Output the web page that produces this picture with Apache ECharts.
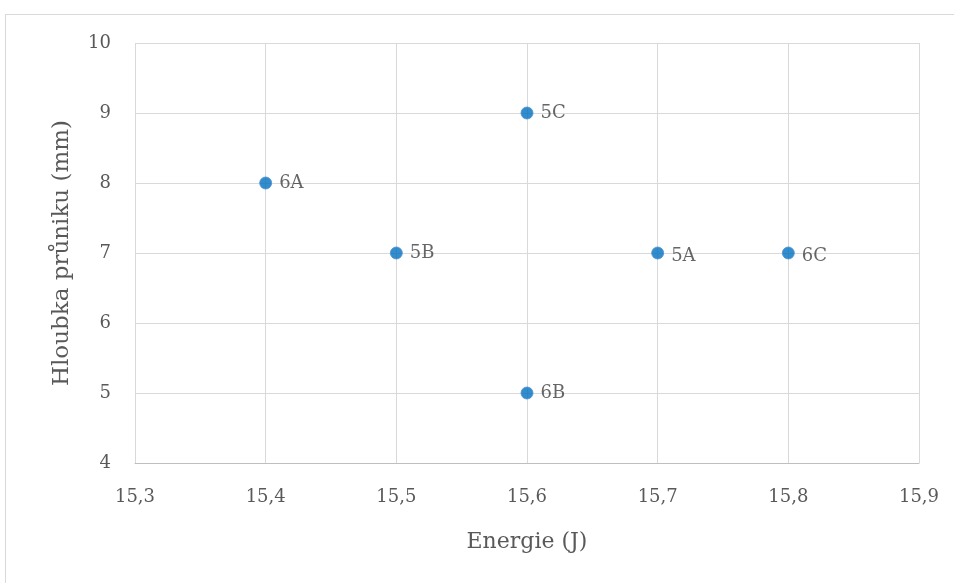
<!DOCTYPE html>
<html>
<head>
<meta charset="utf-8">
<script src="https://cdn.jsdelivr.net/npm/echarts@6/dist/echarts.min.js"></script>
<style>
  html, body { margin: 0; padding: 0; background: #fff; }
  #frame { position: absolute; left: 5px; top: 14px; width: 960px; height: 580px; border: 1px solid #d9d9d9; box-sizing: border-box; }
  #chart { position: absolute; left: 0; top: 0; width: 954px; height: 583px; }
</style>
</head>
<body>
<div id="frame"></div>
<div id="chart"></div>
<script>
// Sample labels, impact energy (J) and penetration depth (mm)
const samples = ['5A', '5B', '5C', '6A', '6B', '6C'];
const energies = [15.7, 15.5, 15.6, 15.4, 15.6, 15.8];
const depths = [7, 7, 9, 8, 5, 7];

const xTicks = { min: 15.3, max: 15.9, step: 0.1 };
const yTicks = { min: 4, max: 10, step: 1 };

const font = '"DejaVu Serif", "Liberation Serif", serif';

// labels sitting on a gridline get nudged slightly downward
const lowered = new Set(['5A', '6C']);
const points = samples.map((s, i) => ({
  value: [energies[i], depths[i]],
  name: s,
  label: { offset: [0, lowered.has(s) ? 3 : 0] }
}));

const chart = echarts.init(document.getElementById('chart'), null, { renderer: 'canvas' });
chart.setOption({
  backgroundColor: 'transparent',
  animation: false,
  grid: { left: 135, right: 35, top: 43, bottom: 120, containLabel: false },
  xAxis: {
    type: 'value',
    min: xTicks.min, max: xTicks.max, interval: xTicks.step,
    name: 'Energie (J)', nameLocation: 'middle', nameGap: 68,
    nameTextStyle: { fontFamily: font, fontSize: 22, color: '#595959' },
    axisLine: { show: true, lineStyle: { color: '#bfbfbf', width: 1 } },
    axisTick: { show: false },
    axisLabel: {
      fontFamily: font, fontSize: 18, color: '#595959', margin: 25,
      formatter: v => v.toFixed(1).replace('.', ',')
    },
    splitLine: { show: true, lineStyle: { color: '#d9d9d9', width: 1 } }
  },
  yAxis: {
    type: 'value',
    min: yTicks.min, max: yTicks.max, interval: yTicks.step,
    name: 'Hloubka průniku (mm)', nameLocation: 'middle', nameGap: 61, nameRotate: 90,
    nameTextStyle: { fontFamily: font, fontSize: 23, color: '#595959' },
    axisLine: { show: false },
    axisTick: { show: false },
    axisLabel: { fontFamily: font, fontSize: 18, color: '#595959', margin: 24 },
    splitLine: { show: true, lineStyle: { color: '#d9d9d9', width: 1 } }
  },
  series: [{
    type: 'scatter',
    data: points,
    symbol: 'circle',
    symbolSize: 12,
    itemStyle: { color: '#0070c0', borderColor: '#4a90d0', borderWidth: 1 },
    label: {
      show: true, position: 'right', distance: 7,
      formatter: p => p.name,
      fontFamily: font, fontSize: 18, color: '#404040'
    }
  }]
});
</script>
</body>
</html>
